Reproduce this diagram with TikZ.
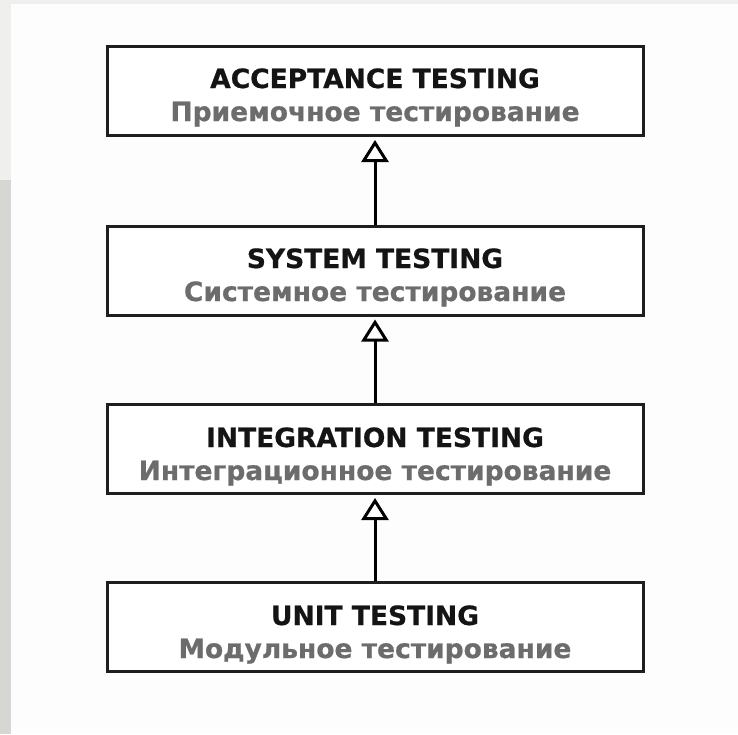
\documentclass[tikz,border=0pt]{standalone}
\usepackage{fontspec}
\newfontfamily\vfont{DejaVu Sans Bold}[FakeBold=0.7]
\usetikzlibrary{arrows.meta}
\definecolor{boxline}{HTML}{1E1E1E}
\definecolor{subgray}{HTML}{6C6C6C}
\definecolor{bgpaper}{HTML}{FDFDFD}
\definecolor{edgegray}{HTML}{D6D6D2}
\definecolor{topgray}{HTML}{EFEFED}
\tikzset{
  x=1pt, y=-1pt,
  levelbox/.style={draw=boxline, line width=3pt, fill=white, minimum width=536pt, minimum height=89pt, inner sep=0pt},
  titletext/.style={anchor=base, inner sep=0pt, font=\vfont\fontsize{26.5}{30}\selectfont, text=black!92},
  subtext/.style={anchor=base, inner sep=0pt, font=\vfont\fontsize{26.5}{30}\selectfont, text=subgray},
  uparrow/.style={draw=black, line width=3pt, -{Triangle[open, length=22pt, width=27pt, line width=3pt]}, shorten >=3pt}
}
\begin{document}
\begin{tikzpicture}
\useasboundingbox (0,0) rectangle (738,734);
\fill[topgray] (0,0) rectangle (738,734);
\fill[bgpaper] (11,4) rectangle (738,734);
\fill[edgegray] (0,180) rectangle (11,734);
% boxes
\node[levelbox] (b1) at (375,91) {};
\node[levelbox] (b2) at (375,270.5) {};
\node[levelbox] (b3) at (375,449) {};
\node[levelbox] (b4) at (375,627) {};
% texts
\node[titletext] (t1) at (375,88) {ACCEPTANCE TESTING};
\node[subtext] (s1) at (375,121) {Приемочное тестирование};
\node[titletext] (t2) at (375,268) {SYSTEM TESTING};
\node[subtext] (s2) at (375,301) {Системное тестирование};
\node[titletext] (t3) at (375,447) {INTEGRATION TESTING};
\node[subtext] (s3) at (375,480) {Интеграционное тестирование};
\node[titletext] (t4) at (375,625) {UNIT TESTING};
\node[subtext] (s4) at (375,658) {Модульное тестирование};
% arrows
\draw[uparrow] (b2.north) -- (b1.south);
\draw[uparrow] (b3.north) -- (b2.south);
\draw[uparrow] (b4.north) -- (b3.south);
\end{tikzpicture}
\end{document}
